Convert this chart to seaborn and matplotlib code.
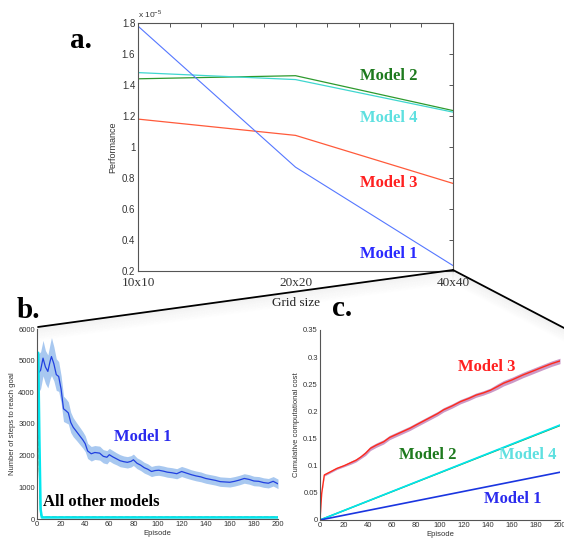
import numpy as np
import matplotlib
matplotlib.use("Agg")
import matplotlib.pyplot as plt
from matplotlib.lines import Line2D
from matplotlib.ticker import FuncFormatter
import seaborn as sns

## data: panel a (performance, in units of 1e-5)
grid_labels = ['10x10', '20x20', '40x40']
perf_m1 = [1.78, 0.87, 0.235]
perf_m2 = [1.44, 1.46, 1.235]
perf_m3 = [1.18, 1.075, 0.765]
perf_m4 = [1.48, 1.435, 1.225]

## data: panel b (steps to reach goal)
ep_b = [1, 3, 5, 7, 9, 11, 12, 14, 16, 18,
        20, 22, 24, 26, 28, 30, 33, 36, 38, 40,
        42, 45, 48, 52, 55, 58, 60, 63, 66, 69,
        72, 75, 78, 80, 83, 86, 89, 92, 95, 98,
        101, 105, 108, 112, 116, 120, 124, 128, 132, 136,
        140, 144, 148, 152, 156, 160, 164, 168, 172, 176,
        180, 184, 188, 192, 196, 200]
steps_m1 = [4600, 4700, 5080, 4800, 4660, 5000, 5130, 4900, 4560, 4500,
            4100, 3480, 3420, 3350, 3050, 2900, 2750, 2600, 2500, 2380,
            2150, 2060, 2100, 2080, 1980, 1950, 2030, 1960, 1900, 1840,
            1810, 1790, 1820, 1870, 1760, 1700, 1620, 1570, 1500, 1530,
            1540, 1510, 1480, 1460, 1430, 1500, 1450, 1400, 1360, 1330,
            1280, 1250, 1220, 1180, 1170, 1160, 1190, 1230, 1280, 1250,
            1200, 1190, 1150, 1130, 1190, 1110]
steps_m1_err = [620, 580, 560, 520, 520, 560, 600, 540, 500, 470,
                430, 400, 380, 350, 320, 300, 280, 270, 260, 250,
                240, 230, 220, 220, 210, 210, 200, 200, 190, 190,
                180, 180, 180, 180, 170, 170, 170, 170, 160, 160,
                160, 160, 160, 160, 160, 160, 160, 155, 155, 155,
                150, 150, 150, 150, 150, 150, 150, 150, 150, 150,
                150, 150, 150, 150, 150, 150]
ep_other = [1, 2, 3, 4, 200]
steps_m2 = [5000, 1500, 200, 50, 50]
steps_m3 = [3500, 1600, 300, 60, 60]
steps_m4 = [5250, 2500, 300, 50, 50]

## data: panel c (cumulative computational cost)
ep_c = [0, 1.4, 3.6, 8, 14, 20, 26, 30, 34, 38,
        42, 47, 53, 58, 64, 69, 75, 80, 86, 92,
        98, 103, 110, 117, 124, 130, 136, 142, 148, 153,
        160, 169, 177, 186, 193, 200]
cost_m3 = [0, 0.049, 0.083, 0.088, 0.095, 0.1, 0.106, 0.11, 0.116, 0.123,
           0.132, 0.138, 0.144, 0.152, 0.158, 0.163, 0.169, 0.175, 0.182, 0.189,
           0.196, 0.203, 0.210, 0.218, 0.224, 0.230, 0.234, 0.239, 0.246, 0.252,
           0.258, 0.267, 0.274, 0.282, 0.288, 0.293]
cost_m3_err = [0, 0.001, 0.002, 0.002, 0.002, 0.002, 0.003, 0.003, 0.003, 0.004,
               0.004, 0.004, 0.004, 0.004, 0.004, 0.004, 0.004, 0.004, 0.004, 0.004,
               0.004, 0.004, 0.004, 0.004, 0.004, 0.004, 0.004, 0.004, 0.005, 0.005,
               0.005, 0.005, 0.005, 0.005, 0.005, 0.005]
ep_lin = [0, 200]
cost_m1 = [0, 0.088]
cost_m2 = [0, 0.174]
cost_m4 = [0, 0.175]

sns.set_style("white")
plt.rcParams['font.family'] = ['Liberation Sans', 'DejaVu Sans']
plt.rcParams['xtick.direction'] = 'in'
plt.rcParams['ytick.direction'] = 'in'
SERIF = ['Liberation Serif', 'DejaVu Serif']
TICKC = '#333333'
SPINEC = '#555555'

W, H = 564, 543
fig = plt.figure(figsize=(W / 100, H / 100), dpi=100)


def px(x0, y0, x1, y1):
    # pixel box -> figure fraction rect
    return [x0 / W, 1 - y1 / H, (x1 - x0) / W, (y1 - y0) / H]


## connector lines with soft shadow
def connector(p, q):
    for i in range(1, 14):
        fig.add_artist(Line2D([p[0] / W, q[0] / W],
                              [1 - (p[1] + i) / H, 1 - (q[1] + i) / H],
                              transform=fig.transFigure, color='gray',
                              lw=1.5, alpha=0.05 * (1 - i / 14)))
    fig.add_artist(Line2D([p[0] / W, q[0] / W], [1 - p[1] / H, 1 - q[1] / H],
                          transform=fig.transFigure, color='black', lw=1.3))


connector((38, 327), (453, 270))
connector((453, 270), (566, 329))

## A. Performance vs grid size
ax_a = fig.add_axes(px(138, 23, 453, 271))
xa = list(range(len(grid_labels)))
sns.lineplot(x=xa, y=perf_m2, ax=ax_a, color='#2e9a2e', lw=0.9)
sns.lineplot(x=xa, y=perf_m4, ax=ax_a, color='#3fd6cf', lw=0.9)
sns.lineplot(x=xa, y=perf_m3, ax=ax_a, color='#ff5a3a', lw=0.9)
sns.lineplot(x=xa, y=perf_m1, ax=ax_a, color='#5577ff', lw=0.8)
ax_a.set_xlim(0, 2)
ax_a.set_ylim(0.2, 1.8)
ax_a.set_yticks(np.arange(0.2, 1.81, 0.2))
ax_a.yaxis.set_major_formatter(FuncFormatter(lambda v, p: '%g' % round(v, 2)))
ax_a.set_xticks(xa)
ax_a.set_xticklabels(grid_labels, fontfamily=SERIF, fontsize=9.5, color='#333333')
ax_a.set_xticks(np.arange(0, 2.01, 0.2), minor=True)
ax_a.tick_params(which='both', top=True, right=True, length=3, width=0.7, color=SPINEC)
ax_a.tick_params(axis='x', pad=4)
ax_a.tick_params(axis='y', labelsize=7, labelcolor=TICKC, pad=2)
for s in ax_a.spines.values():
    s.set_color(SPINEC)
    s.set_linewidth(0.8)
ax_a.set_xlabel('Grid size', fontfamily=SERIF, fontsize=9.5, color='#222222', labelpad=6)
ax_a.set_ylabel('Performance', fontsize=6.5, color=TICKC, labelpad=3)
ax_a.text(0.0, 1.012, r'x 10$^{\mathregular{-5}}$', transform=ax_a.transAxes,
          fontsize=6, color=TICKC, va='bottom', ha='left')
lab = dict(fontfamily=SERIF, fontweight='bold', fontsize=12, ha='center', va='center')
ax_a.text(1.594, 1.46, 'Model 2', color='#1e7a1e', **lab)
ax_a.text(1.594, 1.19, 'Model 4', color='#5ee0e0', **lab)
ax_a.text(1.594, 0.77, 'Model 3', color='#ff2020', **lab)
ax_a.text(1.594, 0.31, 'Model 1', color='#2a2aff', **lab)

## B. Steps to reach goal
ax_b = fig.add_axes(px(37, 329, 278, 519))
lo = [m - e for m, e in zip(steps_m1, steps_m1_err)]
hi = [m + e for m, e in zip(steps_m1, steps_m1_err)]
ax_b.fill_between(ep_b, lo, hi, color='#a8c8f0', lw=0)
sns.lineplot(x=ep_b, y=steps_m1, ax=ax_b, color='#2040e0', lw=0.9)
sns.lineplot(x=ep_other, y=steps_m3, ax=ax_b, color='#ff4030', lw=0.9, linestyle='--')
sns.lineplot(x=ep_other, y=steps_m2, ax=ax_b, color='#2e9a2e', lw=0.9)
sns.lineplot(x=ep_other, y=steps_m4, ax=ax_b, color='#00e8f0', lw=1.8)
ax_b.set_xlim(0, 200)
ax_b.set_ylim(0, 6000)
ax_b.set_xticks(range(0, 201, 20))
ax_b.set_yticks(range(0, 6001, 1000))
ax_b.set_xlabel('Episode', fontsize=5.5, color=TICKC, labelpad=1.5)
ax_b.set_ylabel('Number of steps to reach goal', fontsize=5.5, color=TICKC, labelpad=2)
ax_b.text(88, 2600, 'Model 1', color='#2a2aee', **lab)
ax_b.text(53, 540, 'All other models', color='black', **lab)

## C. Cumulative computational cost
ax_c = fig.add_axes(px(320, 330, 560, 520))
lo = [m - e for m, e in zip(cost_m3, cost_m3_err)]
hi = [m + e for m, e in zip(cost_m3, cost_m3_err)]
ax_c.fill_between(ep_c, lo, hi, color='#c080b8', lw=0, alpha=0.8)
sns.lineplot(x=ep_c, y=cost_m3, ax=ax_c, color='#ff2a1a', lw=1.0)
sns.lineplot(x=ep_lin, y=cost_m2, ax=ax_c, color='#2e9a2e', lw=1.0)
sns.lineplot(x=ep_lin, y=cost_m4, ax=ax_c, color='#00e5ee', lw=1.2)
sns.lineplot(x=ep_lin, y=cost_m1, ax=ax_c, color='#1a35e0', lw=1.2)
ax_c.set_xlim(0, 200)
ax_c.set_ylim(0, 0.35)
ax_c.set_xticks(range(0, 201, 20))
ax_c.set_yticks(np.arange(0, 0.351, 0.05))
ax_c.yaxis.set_major_formatter(FuncFormatter(lambda v, p: '%g' % round(v, 3)))
ax_c.set_xlabel('Episode', fontsize=5.5, color=TICKC, labelpad=1.5)
ax_c.set_ylabel('Cumulative computational cost', fontsize=5.5, color=TICKC, labelpad=2)
ax_c.text(139, 0.282, 'Model 3', color='#ff2020', **lab)
ax_c.text(90, 0.12, 'Model 2', color='#1e7a1e', **lab)
ax_c.text(173, 0.12, 'Model 4', color='#5ee0e0', **lab)
ax_c.text(161, 0.039, 'Model 1', color='#2a2aee', **lab)

for ax in (ax_b, ax_c):
    sns.despine(ax=ax)
    ax.tick_params(length=2.5, width=0.6, color=SPINEC, labelsize=5.5,
                   labelcolor=TICKC, pad=1.5)
    for s in ('left', 'bottom'):
        ax.spines[s].set_color(SPINEC)
        ax.spines[s].set_linewidth(0.8)

## panel letters
big = dict(fontfamily=SERIF, fontweight='bold', fontsize=21, color='black')
fig.text(70 / W, 1 - 48 / H, 'a.', **big)
fig.text(17 / W, 1 - 318 / H, 'b.', **big)
fig.text(332 / W, 1 - 316 / H, 'c.', **big)

fig.savefig('out.png', dpi=100, facecolor='white')
